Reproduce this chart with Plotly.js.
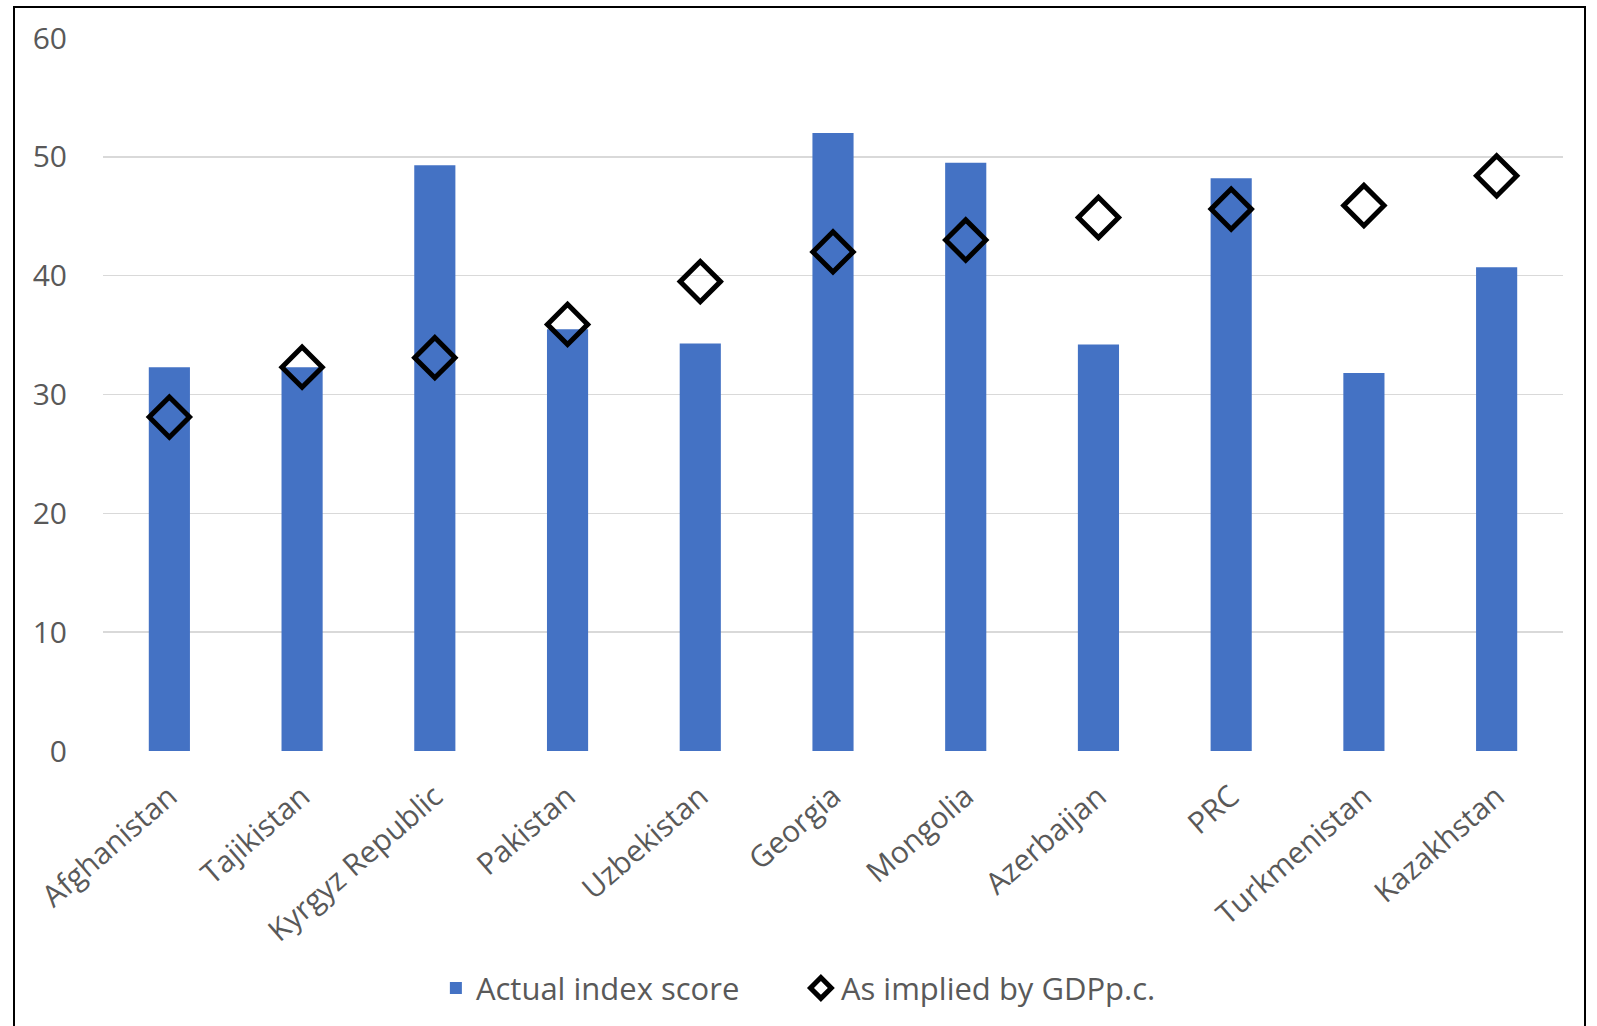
<!DOCTYPE html>
<html>
<head>
<meta charset="utf-8">
<script src="https://cdn.plot.ly/plotly-3.0.1.min.js"></script>
<style>
  html, body { margin: 0; padding: 0; background: #ffffff; overflow: hidden; }
  #chart { width: 1597px; height: 1026px; }
  #frame {
    position: absolute; left: 13px; top: 6px; width: 1573px; height: 1100px;
    border: 2px solid #000000; pointer-events: none; box-sizing: border-box;
  }
</style>
</head>
<body>
<div id="chart"></div>
<div id="frame"></div>
<script>
// Countries, ordered by GDP per capita
const countries = [
  "Afghanistan", "Tajikistan", "Kyrgyz Republic", "Pakistan", "Uzbekistan",
  "Georgia", "Mongolia", "Azerbaijan", "PRC", "Turkmenistan", "Kazakhstan"
];

// Actual index score
const actualScore = [32.3, 32.3, 49.3, 35.5, 34.3, 52.0, 49.5, 34.2, 48.2, 31.8, 40.7];

// Score implied by GDP per capita
const impliedScore = [28.1, 32.3, 33.1, 35.9, 39.5, 42.0, 43.0, 44.9, 45.6, 45.9, 48.4];

const yTicks = [0, 10, 20, 30, 40, 50, 60];

const textColor = "#595959";
const fontFamily = "'Open Sans', 'Noto Sans', sans-serif";

const traces = [
  {
    type: "bar",
    name: "Actual index score",
    x: countries,
    y: actualScore,
    marker: { color: "#4472C4" },
    hoverinfo: "x+y"
  },
  {
    type: "scatter",
    mode: "markers",
    name: "As implied by GDPp.c.",
    x: countries,
    y: impliedScore,
    marker: {
      symbol: "diamond-open",
      size: 31,
      color: "#000000",
      line: { width: 5, color: "#000000" }
    },
    hoverinfo: "x+y"
  }
];

const layout = {
  width: 1597,
  height: 1026,
  paper_bgcolor: "#ffffff",
  plot_bgcolor: "#ffffff",
  margin: { l: 103, r: 34, t: 38, b: 274, pad: 0 },
  bargap: 0.69,
  showlegend: true,
  font: { family: fontFamily, color: textColor, size: 30 },
  xaxis: {
    type: "category",
    range: [-0.5, countries.length - 0.5],
    tickangle: -41,
    tickfont: { family: fontFamily, size: 30, color: textColor },
    showgrid: false,
    showline: false,
    zeroline: false,
    ticks: "outside",
    ticklen: 15,
    tickcolor: "rgba(0,0,0,0)"
  },
  yaxis: {
    range: [0, 60],
    tickvals: yTicks,
    ticktext: yTicks.map(String),
    tickfont: { family: fontFamily, size: 30, color: textColor },
    showgrid: true,
    gridcolor: "#d9d9d9",
    gridwidth: 1.5,
    zeroline: false,
    showline: false,
    ticks: "outside",
    ticklen: 29,
    tickcolor: "rgba(0,0,0,0)"
  },
  legend: {
    orientation: "h",
    x: 0.478,
    xanchor: "center",
    y: -0.331,
    yanchor: "middle",
    entrywidth: 320,
    font: { family: fontFamily, size: 31, color: textColor },
    itemsizing: "trace",
    bgcolor: "rgba(0,0,0,0)"
  }
};

Plotly.newPlot("chart", traces, layout, { displayModeBar: false, staticPlot: true });
</script>
</body>
</html>
